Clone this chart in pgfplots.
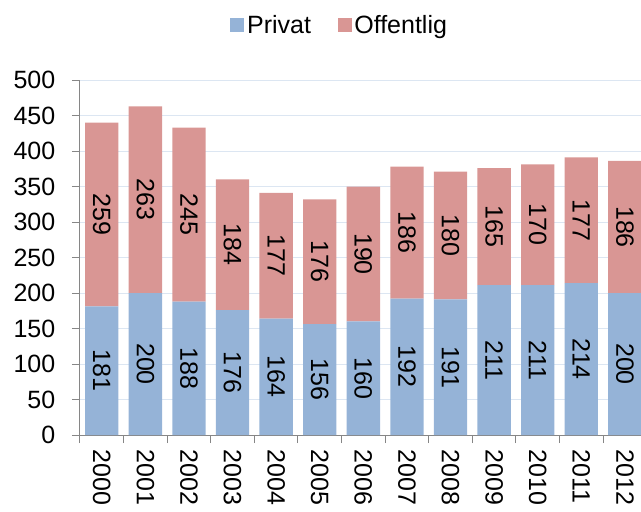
\documentclass[border=0pt]{standalone}
\usepackage{pgfplots}
\pgfplotsset{compat=1.18}
\usepackage{fontspec}
\setmainfont{Liberation Sans}
\definecolor{privat}{HTML}{95B3D7}
\definecolor{offentlig}{HTML}{D99694}
\definecolor{gridc}{HTML}{DCE6F2}
\definecolor{axc}{HTML}{868686}
\pgfplotsset{
  sq legend/.style={legend image code/.code={\fill[##1] (0pt,-5.25pt) rectangle (10.5pt,5.25pt);}},
}
\begin{document}
\begin{tikzpicture}[font=\fontsize{18.75}{22}\selectfont]
\begin{axis}[
  at={(0,0)}, anchor=south west,
  scale only axis, width=420.75pt, height=266.25pt,
  ybar stacked, bar width=25pt,
  xmin=-0.5, xmax=12.37, ymin=0, ymax=500,
  axis x line*=bottom, axis y line*=left,
  axis line style={axc, line width=0.75pt},
  ytick={0,50,...,500},
  xtick={-0.5,0.5,...,11.5},
  xticklabels={},
  extra x ticks={0,...,12},
  extra x tick labels={2000,2001,2002,2003,2004,2005,2006,2007,2008,2009,2010,2011,2012},
  extra x tick style={major tick length=0pt, grid=none,
    xticklabel style={yshift=-7.5pt, rotate=-90, anchor=west}},
  tick align=outside,
  major tick length=6pt,
  tick style={axc, line width=0.75pt},
  ymajorgrids, grid style={gridc, line width=0.75pt},
  yticklabel style={xshift=-9pt},
  /pgf/number format/assume math mode=true,
  nodes near coords,
  every node near coord/.style={rotate=-90, anchor=center, black},
  legend style={at={(0.4635,1.155)}, anchor=center, draw=none, fill=none, legend columns=2,
    /tikz/every even column/.append style={column sep=18pt}},
]
\addplot[fill=privat, draw=none, sq legend] coordinates {
(0,181) (1,200) (2,188) (3,176) (4,164) (5,156) (6,160) (7,192) (8,191) (9,211) (10,211) (11,214) (12,200)};
\addplot[fill=offentlig, draw=none, sq legend] coordinates {
(0,259) (1,263) (2,245) (3,184) (4,177) (5,176) (6,190) (7,186) (8,180) (9,165) (10,170) (11,177) (12,186)};
\legend{Privat, Offentlig}
\end{axis}
\pgfresetboundingbox
\path[use as bounding box] (-60pt,-57pt) rectangle (420.75pt,326.25pt);
\end{tikzpicture}
\end{document}
